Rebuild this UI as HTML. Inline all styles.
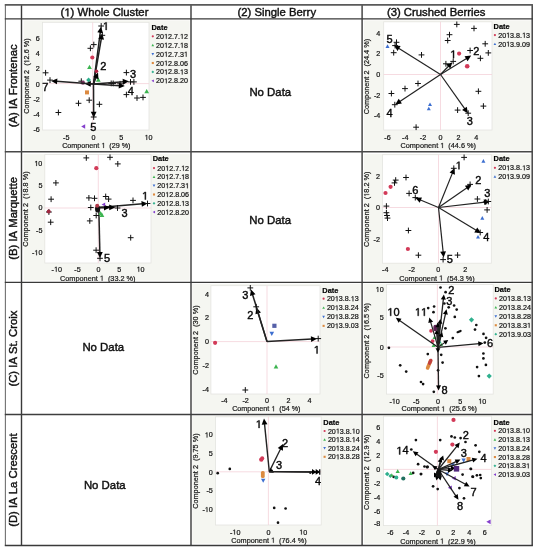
<!DOCTYPE html>
<html><head><meta charset="utf-8"><title>Figure</title>
<style>
html,body{margin:0;padding:0;background:#fff;width:537px;height:550px;overflow:hidden}
svg{display:block;will-change:transform}
text{font-family:"Liberation Sans", sans-serif;font-kerning:none;stroke:#111;stroke-width:0.2px}
text.b{stroke-width:0.42px}
</style></head><body>
<svg width="537" height="550" viewBox="0 0 537 550" font-family='"Liberation Sans", sans-serif'>
<rect width="537" height="550" fill="#fff"/>
<rect x="23.7" y="20.4" width="165.9" height="130.2" fill="#f5f6f1"/>
<rect x="42.5" y="22.3" width="106.5" height="107.7" fill="#fff" stroke="#e4e4e0" stroke-width="0.8"/>
<line x1="92.7" y1="22.3" x2="92.7" y2="130" stroke="#f4d2d9" stroke-width="0.8"/>
<line x1="42.5" y1="83.6" x2="149" y2="83.6" stroke="#f4d2d9" stroke-width="0.8"/>
<text x="35.8" y="40.69" font-size="7.2" font-weight="normal" fill="#111">6</text>
<text x="35.8" y="55.99" font-size="7.2" font-weight="normal" fill="#111">4</text>
<text x="35.8" y="71.29" font-size="7.2" font-weight="normal" fill="#111">2</text>
<text x="35.8" y="86.59" font-size="7.2" font-weight="normal" fill="#111">0</text>
<text x="33.4" y="101.89" font-size="7.2" font-weight="normal" fill="#111">-2</text>
<text x="33.4" y="117.19" font-size="7.2" font-weight="normal" fill="#111">-4</text>
<text x="33.4" y="132.49" font-size="7.2" font-weight="normal" fill="#111">-6</text>
<text x="63" y="139.89" font-size="7.2" font-weight="normal" fill="#111">-5</text>
<text x="91.6" y="139.89" font-size="7.2" font-weight="normal" fill="#111">0</text>
<text x="119.2" y="139.89" font-size="7.2" font-weight="normal" fill="#111">5</text>
<text x="144.6" y="139.89" font-size="7.2" font-weight="normal" fill="#111">&#8199;0</text><path transform="translate(144.6,139.89) scale(0.003516,-0.003516)" d="M545 0L545 1237L227 1010L227 1180L560 1409L726 1409L726 0Z" fill="#111" stroke="#111" stroke-width="56.89"/>
<text x="62.18" y="147.89" font-size="7.2" font-weight="normal" fill="#222">Component &#8199;&#160;&#160;(29 %)</text><path transform="translate(101.41,147.89) scale(0.003516,-0.003516)" d="M545 0L545 1237L227 1010L227 1180L560 1409L726 1409L726 0Z" fill="#222" stroke="#111" stroke-width="56.89"/>
<g transform="translate(29.3,76) rotate(-90)"><text x="-37.74" y="0" font-size="7.3" font-weight="normal" fill="#222">Component 2&#160;&#160;(&#8199;2.6 %)</text><path transform="translate(12.58,0) scale(0.003564,-0.003564)" d="M545 0L545 1237L227 1010L227 1180L560 1409L726 1409L726 0Z" fill="#222" stroke="#111" stroke-width="56.11"/></g>
<path d="M42.7 72.8H48.5M45.6 69.9V75.7" stroke="#111" stroke-width="1" fill="none"/>
<path d="M47.1 80.1H52.9M50 77.2V83" stroke="#111" stroke-width="1" fill="none"/>
<path d="M78.4 81.2H84.2M81.3 78.3V84.1" stroke="#111" stroke-width="1" fill="none"/>
<path d="M90.9 44.6H96.7M93.8 41.7V47.5" stroke="#111" stroke-width="1" fill="none"/>
<path d="M87.5 48.3H93.3M90.4 45.4V51.2" stroke="#111" stroke-width="1" fill="none"/>
<path d="M123.5 72.6H129.3M126.4 69.7V75.5" stroke="#111" stroke-width="1" fill="none"/>
<path d="M127.6 81.9H133.4M130.5 79V84.8" stroke="#111" stroke-width="1" fill="none"/>
<path d="M131 81.9H136.8M133.9 79V84.8" stroke="#111" stroke-width="1" fill="none"/>
<path d="M117.2 83.8H123M120.1 80.9V86.7" stroke="#111" stroke-width="1" fill="none"/>
<path d="M108.3 83.4H114.1M111.2 80.5V86.3" stroke="#111" stroke-width="1" fill="none"/>
<path d="M110.3 83.4H116.1M113.2 80.5V86.3" stroke="#111" stroke-width="1" fill="none"/>
<path d="M123.5 94.6H129.3M126.4 91.7V97.5" stroke="#111" stroke-width="1" fill="none"/>
<path d="M134.1 98H139.9M137 95.1V100.9" stroke="#111" stroke-width="1" fill="none"/>
<path d="M140.1 97.4H145.9M143 94.5V100.3" stroke="#111" stroke-width="1" fill="none"/>
<path d="M75.6 103.3H81.4M78.5 100.4V106.2" stroke="#111" stroke-width="1" fill="none"/>
<path d="M86.3 100.2H92.1M89.2 97.3V103.1" stroke="#111" stroke-width="1" fill="none"/>
<path d="M96.5 104.3H102.3M99.4 101.4V107.2" stroke="#111" stroke-width="1" fill="none"/>
<path d="M55.5 112.5H61.3M58.4 109.6V115.4" stroke="#111" stroke-width="1" fill="none"/>
<circle cx="92.3" cy="57.5" r="2.1" fill="#d23a58"/>
<polygon points="89.5,64.8 87.1,69.12 91.9,69.12" fill="#3cb450"/>
<polygon points="98.3,77.4 95.9,81.72 100.7,81.72" fill="#3cb450"/>
<polygon points="146.7,88.9 144.3,93.22 149.1,93.22" fill="#3cb450"/>
<polygon points="88.6,77.6 91,80 88.6,82.4 86.2,80" fill="#2fb08e"/>
<circle cx="83" cy="82.8" r="2" fill="#7a3060"/>
<rect x="85" y="90.4" width="4" height="4" fill="#dc8a40"/>
<polygon points="81.2,126.5 85.16,124.3 85.16,128.7" fill="#8540cc"/>
<line x1="93.5" y1="84" x2="100.35" y2="31.76" stroke="#222" stroke-width="1.5"/>
<polygon points="101,26.8 103.1,33.13 97.34,32.37" fill="#000"/>
<line x1="93.5" y1="84" x2="101.35" y2="38.33" stroke="#222" stroke-width="1.5"/>
<polygon points="102.2,33.4 104.04,39.8 98.33,38.82" fill="#000"/>
<line x1="93.5" y1="84" x2="96.18" y2="77.16" stroke="#222" stroke-width="1.5"/>
<polygon points="98,72.5 98.51,79.14 93.11,77.03" fill="#000"/>
<line x1="93.5" y1="84" x2="123.81" y2="81.68" stroke="#222" stroke-width="1.5"/>
<polygon points="128.8,81.3 123.04,84.65 122.6,78.87" fill="#000"/>
<line x1="93.5" y1="84" x2="119.81" y2="85.68" stroke="#222" stroke-width="1.5"/>
<polygon points="124.8,86 118.63,88.51 119,82.72" fill="#000"/>
<line x1="93.5" y1="84" x2="93.67" y2="112.7" stroke="#222" stroke-width="1.5"/>
<polygon points="93.7,117.7 90.76,111.72 96.56,111.68" fill="#000"/>
<line x1="93.5" y1="84" x2="89.8" y2="83.87" stroke="#222" stroke-width="1.5"/>
<polygon points="84.8,83.7 90.9,81.01 90.7,86.81" fill="#000"/>
<line x1="93.5" y1="84" x2="56.19" y2="81.35" stroke="#222" stroke-width="1.5"/>
<polygon points="51.2,81 57.39,78.53 56.98,84.32" fill="#000"/>
<circle cx="96.5" cy="71.3" r="1.8" fill="#b02040"/>
<path d="M98.3 26H104.1M101.2 23.1V28.9" stroke="#111" stroke-width="1" fill="none"/>
<path d="M99.4 35.3H105.2M102.3 32.4V38.2" stroke="#111" stroke-width="1" fill="none"/>
<path d="M90.8 117H96.6M93.7 114.1V119.9" stroke="#111" stroke-width="1" fill="none"/>
<text class="b" x="102.74" y="29.96" font-size="11" font-weight="normal" fill="#000">&#8199;</text><path transform="translate(102.74,29.96) scale(0.005371,-0.005371)" d="M545 0L545 1237L227 1010L227 1180L560 1409L726 1409L726 0Z" fill="#000" stroke="#111" stroke-width="78.2"/>
<text class="b" x="100.14" y="69.66" font-size="11" font-weight="normal" fill="#000">2</text>
<text class="b" x="129.94" y="77.96" font-size="11" font-weight="normal" fill="#000">3</text>
<text class="b" x="127.64" y="94.96" font-size="11" font-weight="normal" fill="#000">4</text>
<text class="b" x="90.24" y="130.86" font-size="11" font-weight="normal" fill="#000">5</text>
<text class="b" x="42.34" y="90.56" font-size="11" font-weight="normal" fill="#000">7</text>
<text x="151.5" y="30.26" font-size="7.4" font-weight="bold" fill="#000">Date</text>
<circle cx="152.8" cy="36.3" r="1.1" fill="#d23a58"/>
<text x="156.1" y="38.87" font-size="7.15" font-weight="normal" fill="#111">20&#8199;2.7.&#8199;2</text><path transform="translate(164.05,38.87) scale(0.003491,-0.003491)" d="M545 0L545 1237L227 1010L227 1180L560 1409L726 1409L726 0Z" fill="#111" stroke="#111" stroke-width="57.29"/><path transform="translate(179.96,38.87) scale(0.003491,-0.003491)" d="M545 0L545 1237L227 1010L227 1180L560 1409L726 1409L726 0Z" fill="#111" stroke="#111" stroke-width="57.29"/>
<polygon points="152.8,43.85 151.45,46.28 154.15,46.28" fill="#3cb450"/>
<text x="156.1" y="47.77" font-size="7.15" font-weight="normal" fill="#111">20&#8199;2.7.&#8199;8</text><path transform="translate(164.05,47.77) scale(0.003491,-0.003491)" d="M545 0L545 1237L227 1010L227 1180L560 1409L726 1409L726 0Z" fill="#111" stroke="#111" stroke-width="57.29"/><path transform="translate(179.96,47.77) scale(0.003491,-0.003491)" d="M545 0L545 1237L227 1010L227 1180L560 1409L726 1409L726 0Z" fill="#111" stroke="#111" stroke-width="57.29"/>
<polygon points="152.8,55.45 151.45,53.02 154.15,53.02" fill="#3d6fd0"/>
<text x="156.1" y="56.67" font-size="7.15" font-weight="normal" fill="#111">20&#8199;2.7.3&#8199;</text><path transform="translate(164.05,56.67) scale(0.003491,-0.003491)" d="M545 0L545 1237L227 1010L227 1180L560 1409L726 1409L726 0Z" fill="#111" stroke="#111" stroke-width="57.29"/><path transform="translate(183.93,56.67) scale(0.003491,-0.003491)" d="M545 0L545 1237L227 1010L227 1180L560 1409L726 1409L726 0Z" fill="#111" stroke="#111" stroke-width="57.29"/>
<rect x="151.75" y="61.95" width="2.1" height="2.1" fill="#dc8a40"/>
<text x="156.1" y="65.57" font-size="7.15" font-weight="normal" fill="#111">20&#8199;2.8.06</text><path transform="translate(164.05,65.57) scale(0.003491,-0.003491)" d="M545 0L545 1237L227 1010L227 1180L560 1409L726 1409L726 0Z" fill="#111" stroke="#111" stroke-width="57.29"/>
<polygon points="152.8,70.5 154.2,71.9 152.8,73.3 151.4,71.9" fill="#2fb08e"/>
<text x="156.1" y="74.47" font-size="7.15" font-weight="normal" fill="#111">20&#8199;2.8.&#8199;3</text><path transform="translate(164.05,74.47) scale(0.003491,-0.003491)" d="M545 0L545 1237L227 1010L227 1180L560 1409L726 1409L726 0Z" fill="#111" stroke="#111" stroke-width="57.29"/><path transform="translate(179.96,74.47) scale(0.003491,-0.003491)" d="M545 0L545 1237L227 1010L227 1180L560 1409L726 1409L726 0Z" fill="#111" stroke="#111" stroke-width="57.29"/>
<polygon points="151.45,80.8 153.88,79.45 153.88,82.15" fill="#8540cc"/>
<text x="156.1" y="83.37" font-size="7.15" font-weight="normal" fill="#111">20&#8199;2.8.20</text><path transform="translate(164.05,83.37) scale(0.003491,-0.003491)" d="M545 0L545 1237L227 1010L227 1180L560 1409L726 1409L726 0Z" fill="#111" stroke="#111" stroke-width="57.29"/>
<rect x="23.7" y="154" width="165.9" height="126.6" fill="#f5f6f1"/>
<rect x="44.8" y="154.6" width="106.2" height="108.4" fill="#fff" stroke="#e4e4e0" stroke-width="0.8"/>
<line x1="98.3" y1="154.6" x2="98.3" y2="263" stroke="#f4d2d9" stroke-width="0.8"/>
<line x1="44.8" y1="208" x2="151" y2="208" stroke="#f4d2d9" stroke-width="0.8"/>
<text x="34.39" y="165.99" font-size="7.2" font-weight="normal" fill="#111">&#8199;0</text><path transform="translate(34.39,165.99) scale(0.003516,-0.003516)" d="M545 0L545 1237L227 1010L227 1180L560 1409L726 1409L726 0Z" fill="#111" stroke="#111" stroke-width="56.89"/>
<text x="38.4" y="188.29" font-size="7.2" font-weight="normal" fill="#111">5</text>
<text x="38.4" y="210.39" font-size="7.2" font-weight="normal" fill="#111">0</text>
<text x="36" y="232.59" font-size="7.2" font-weight="normal" fill="#111">-5</text>
<text x="31.99" y="255.19" font-size="7.2" font-weight="normal" fill="#111">-&#8199;0</text><path transform="translate(34.39,255.19) scale(0.003516,-0.003516)" d="M545 0L545 1237L227 1010L227 1180L560 1409L726 1409L726 0Z" fill="#111" stroke="#111" stroke-width="56.89"/>
<text x="51.6" y="271.79" font-size="7.2" font-weight="normal" fill="#111">-&#8199;0</text><path transform="translate(53.99,271.79) scale(0.003516,-0.003516)" d="M545 0L545 1237L227 1010L227 1180L560 1409L726 1409L726 0Z" fill="#111" stroke="#111" stroke-width="56.89"/>
<text x="74.3" y="271.79" font-size="7.2" font-weight="normal" fill="#111">-5</text>
<text x="96.5" y="271.79" font-size="7.2" font-weight="normal" fill="#111">0</text>
<text x="117.3" y="271.79" font-size="7.2" font-weight="normal" fill="#111">5</text>
<text x="136.6" y="271.79" font-size="7.2" font-weight="normal" fill="#111">&#8199;0</text><path transform="translate(136.6,271.79) scale(0.003516,-0.003516)" d="M545 0L545 1237L227 1010L227 1180L560 1409L726 1409L726 0Z" fill="#111" stroke="#111" stroke-width="56.89"/>
<text x="60.06" y="280.73" font-size="7.3" font-weight="normal" fill="#222">Component &#8199;&#160;&#160;(33.2 %)</text><path transform="translate(99.83,280.73) scale(0.003564,-0.003564)" d="M545 0L545 1237L227 1010L227 1180L560 1409L726 1409L726 0Z" fill="#222" stroke="#111" stroke-width="56.11"/>
<g transform="translate(28.4,209.1) rotate(-90)"><text x="-37.74" y="0" font-size="7.3" font-weight="normal" fill="#222">Component 2&#160;&#160;(&#8199;8.8 %)</text><path transform="translate(12.58,0) scale(0.003564,-0.003564)" d="M545 0L545 1237L227 1010L227 1180L560 1409L726 1409L726 0Z" fill="#222" stroke="#111" stroke-width="56.11"/></g>
<path d="M83.4 157.9H89.2M86.3 155V160.8" stroke="#111" stroke-width="1" fill="none"/>
<path d="M107.1 157.3H112.9M110 154.4V160.2" stroke="#111" stroke-width="1" fill="none"/>
<path d="M114.9 163.9H120.7M117.8 161V166.8" stroke="#111" stroke-width="1" fill="none"/>
<path d="M53 182.9H58.8M55.9 180V185.8" stroke="#111" stroke-width="1" fill="none"/>
<path d="M48.2 199.2H54M51.1 196.3V202.1" stroke="#111" stroke-width="1" fill="none"/>
<path d="M86 197.9H91.8M88.9 195V200.8" stroke="#111" stroke-width="1" fill="none"/>
<path d="M91.6 198.3H97.4M94.5 195.4V201.2" stroke="#111" stroke-width="1" fill="none"/>
<path d="M102.8 196.5H108.6M105.7 193.6V199.4" stroke="#111" stroke-width="1" fill="none"/>
<path d="M105.7 199.1H111.5M108.6 196.2V202" stroke="#111" stroke-width="1" fill="none"/>
<path d="M130.1 200.4H135.9M133 197.5V203.3" stroke="#111" stroke-width="1" fill="none"/>
<path d="M87.9 207.5H93.7M90.8 204.6V210.4" stroke="#111" stroke-width="1" fill="none"/>
<path d="M46 212H51.8M48.9 209.1V214.9" stroke="#111" stroke-width="1" fill="none"/>
<path d="M47.8 222.2H53.6M50.7 219.3V225.1" stroke="#111" stroke-width="1" fill="none"/>
<path d="M86.9 220.9H92.7M89.8 218V223.8" stroke="#111" stroke-width="1" fill="none"/>
<path d="M127.8 237.7H133.6M130.7 234.8V240.6" stroke="#111" stroke-width="1" fill="none"/>
<path d="M93.2 250.2H99M96.1 247.3V253.1" stroke="#111" stroke-width="1" fill="none"/>
<circle cx="96.3" cy="168.2" r="2.1" fill="#d23a58"/>
<circle cx="48.7" cy="211.5" r="2" fill="#a02840"/>
<line x1="98.8" y1="207.6" x2="142.62" y2="203.83" stroke="#222" stroke-width="1.5"/>
<polygon points="147.6,203.4 141.87,206.8 141.37,201.03" fill="#000"/>
<line x1="98.8" y1="207.6" x2="110.2" y2="207.46" stroke="#222" stroke-width="1.5"/>
<polygon points="115.2,207.4 109.24,210.37 109.17,204.57" fill="#000"/>
<line x1="98.8" y1="207.6" x2="105" y2="207.6" stroke="#222" stroke-width="1.5"/>
<polygon points="110,207.6 104,210.5 104,204.7" fill="#000"/>
<line x1="98.8" y1="207.6" x2="99.88" y2="253" stroke="#222" stroke-width="1.5"/>
<polygon points="100,258 96.96,252.07 102.76,251.93" fill="#000"/>
<ellipse cx="97.6" cy="209.0" rx="2.6" ry="3.6" fill="#111"/>
<circle cx="97.2" cy="205.8" r="2" fill="#b03848"/>
<path d="M114.6 208H120.4M117.5 205.1V210.9" stroke="#111" stroke-width="1" fill="none"/>
<path d="M93.3 215.5H99.1M96.2 212.6V218.4" stroke="#111" stroke-width="1" fill="none"/>
<polygon points="101.6,204.6 105.2,202.6 105.2,206.6" fill="#8540cc"/>
<polygon points="101.9,212.6 99.5,216.92 104.3,216.92" fill="#3cb450"/>
<polygon points="100.6,211 98.4,214.96 102.8,214.96" fill="#3cb450"/>
<path d="M144.6 203.5H150.4M147.5 200.6V206.4" stroke="#111" stroke-width="1" fill="none"/>
<path d="M97.1 258.3H102.9M100 255.4V261.2" stroke="#111" stroke-width="1" fill="none"/>
<text class="b" x="141.94" y="199.56" font-size="11" font-weight="normal" fill="#000">&#8199;</text><path transform="translate(141.94,199.56) scale(0.005371,-0.005371)" d="M545 0L545 1237L227 1010L227 1180L560 1409L726 1409L726 0Z" fill="#000" stroke="#111" stroke-width="78.2"/>
<text class="b" x="121.44" y="217.46" font-size="11" font-weight="normal" fill="#000">3</text>
<text class="b" x="104.04" y="262.46" font-size="11" font-weight="normal" fill="#000">5</text>
<text x="152.7" y="161.36" font-size="7.4" font-weight="bold" fill="#000">Date</text>
<circle cx="154" cy="168.1" r="1.1" fill="#d23a58"/>
<text x="157.3" y="170.67" font-size="7.15" font-weight="normal" fill="#111">20&#8199;2.7.&#8199;2</text><path transform="translate(165.25,170.67) scale(0.003491,-0.003491)" d="M545 0L545 1237L227 1010L227 1180L560 1409L726 1409L726 0Z" fill="#111" stroke="#111" stroke-width="57.29"/><path transform="translate(181.16,170.67) scale(0.003491,-0.003491)" d="M545 0L545 1237L227 1010L227 1180L560 1409L726 1409L726 0Z" fill="#111" stroke="#111" stroke-width="57.29"/>
<polygon points="154,175.55 152.65,177.98 155.35,177.98" fill="#3cb450"/>
<text x="157.3" y="179.47" font-size="7.15" font-weight="normal" fill="#111">20&#8199;2.7.&#8199;8</text><path transform="translate(165.25,179.47) scale(0.003491,-0.003491)" d="M545 0L545 1237L227 1010L227 1180L560 1409L726 1409L726 0Z" fill="#111" stroke="#111" stroke-width="57.29"/><path transform="translate(181.16,179.47) scale(0.003491,-0.003491)" d="M545 0L545 1237L227 1010L227 1180L560 1409L726 1409L726 0Z" fill="#111" stroke="#111" stroke-width="57.29"/>
<polygon points="154,187.05 152.65,184.62 155.35,184.62" fill="#3d6fd0"/>
<text x="157.3" y="188.27" font-size="7.15" font-weight="normal" fill="#111">20&#8199;2.7.3&#8199;</text><path transform="translate(165.25,188.27) scale(0.003491,-0.003491)" d="M545 0L545 1237L227 1010L227 1180L560 1409L726 1409L726 0Z" fill="#111" stroke="#111" stroke-width="57.29"/><path transform="translate(185.13,188.27) scale(0.003491,-0.003491)" d="M545 0L545 1237L227 1010L227 1180L560 1409L726 1409L726 0Z" fill="#111" stroke="#111" stroke-width="57.29"/>
<rect x="152.95" y="193.45" width="2.1" height="2.1" fill="#dc8a40"/>
<text x="157.3" y="197.07" font-size="7.15" font-weight="normal" fill="#111">20&#8199;2.8.06</text><path transform="translate(165.25,197.07) scale(0.003491,-0.003491)" d="M545 0L545 1237L227 1010L227 1180L560 1409L726 1409L726 0Z" fill="#111" stroke="#111" stroke-width="57.29"/>
<polygon points="154,201.9 155.4,203.3 154,204.7 152.6,203.3" fill="#2fb08e"/>
<text x="157.3" y="205.87" font-size="7.15" font-weight="normal" fill="#111">20&#8199;2.8.&#8199;3</text><path transform="translate(165.25,205.87) scale(0.003491,-0.003491)" d="M545 0L545 1237L227 1010L227 1180L560 1409L726 1409L726 0Z" fill="#111" stroke="#111" stroke-width="57.29"/><path transform="translate(181.16,205.87) scale(0.003491,-0.003491)" d="M545 0L545 1237L227 1010L227 1180L560 1409L726 1409L726 0Z" fill="#111" stroke="#111" stroke-width="57.29"/>
<polygon points="152.65,212.1 155.08,210.75 155.08,213.45" fill="#8540cc"/>
<text x="157.3" y="214.67" font-size="7.15" font-weight="normal" fill="#111">20&#8199;2.8.20</text><path transform="translate(165.25,214.67) scale(0.003491,-0.003491)" d="M545 0L545 1237L227 1010L227 1180L560 1409L726 1409L726 0Z" fill="#111" stroke="#111" stroke-width="57.29"/>
<rect x="192.3" y="283.8" width="168.5" height="128.8" fill="#f5f6f1"/>
<rect x="210.9" y="285.7" width="109.1" height="108.3" fill="#fff" stroke="#e4e4e0" stroke-width="0.8"/>
<line x1="267" y1="285.7" x2="267" y2="394" stroke="#f4d2d9" stroke-width="0.8"/>
<line x1="210.9" y1="341.6" x2="320" y2="341.6" stroke="#f4d2d9" stroke-width="0.8"/>
<text x="205" y="296.59" font-size="7.2" font-weight="normal" fill="#111">4</text>
<text x="205" y="320.19" font-size="7.2" font-weight="normal" fill="#111">2</text>
<text x="205" y="344.19" font-size="7.2" font-weight="normal" fill="#111">0</text>
<text x="202.6" y="368.39" font-size="7.2" font-weight="normal" fill="#111">-2</text>
<text x="202.6" y="392.09" font-size="7.2" font-weight="normal" fill="#111">-4</text>
<text x="221.2" y="403.49" font-size="7.2" font-weight="normal" fill="#111">-4</text>
<text x="242.4" y="403.49" font-size="7.2" font-weight="normal" fill="#111">-2</text>
<text x="265" y="403.49" font-size="7.2" font-weight="normal" fill="#111">0</text>
<text x="286.4" y="403.49" font-size="7.2" font-weight="normal" fill="#111">2</text>
<text x="307.6" y="403.49" font-size="7.2" font-weight="normal" fill="#111">4</text>
<text x="232.18" y="411.19" font-size="7.2" font-weight="normal" fill="#222">Component &#8199;&#160;&#160;(54 %)</text><path transform="translate(271.41,411.19) scale(0.003516,-0.003516)" d="M545 0L545 1237L227 1010L227 1180L560 1409L726 1409L726 0Z" fill="#222" stroke="#111" stroke-width="56.89"/>
<g transform="translate(197.6,340.1) rotate(-90)"><text x="-34.69" y="0" font-size="7.3" font-weight="normal" fill="#222">Component 2&#160;&#160;(30 %)</text></g>
<circle cx="215.1" cy="342.8" r="2.1" fill="#d23a58"/>
<rect x="272.3" y="323.7" width="4.2" height="4.2" fill="#5560a8"/>
<polygon points="271.8,335.9 269.5,331.76 274.1,331.76" fill="#3d6fd0"/>
<polygon points="276,364.3 273.7,368.44 278.3,368.44" fill="#3cb450"/>
<path d="M242.4 390H248.2M245.3 387.1V392.9" stroke="#111" stroke-width="1" fill="none"/>
<line x1="267" y1="341.6" x2="312.01" y2="339.08" stroke="#222" stroke-width="1.5"/>
<polygon points="317,338.8 311.17,342.03 310.85,336.24" fill="#000"/>
<line x1="267" y1="341.6" x2="257.89" y2="312.37" stroke="#222" stroke-width="1.5"/>
<polygon points="256.4,307.6 260.95,312.46 255.42,314.19" fill="#000"/>
<line x1="267" y1="341.6" x2="252.47" y2="294.18" stroke="#222" stroke-width="1.5"/>
<polygon points="251,289.4 255.53,294.29 249.99,295.99" fill="#000"/>
<path d="M247.4 287.9H253.2M250.3 285V290.8" stroke="#111" stroke-width="1" fill="none"/>
<path d="M253.3 306.8H259.1M256.2 303.9V309.7" stroke="#111" stroke-width="1" fill="none"/>
<path d="M315.3 338.6H321.1M318.2 335.7V341.5" stroke="#111" stroke-width="1" fill="none"/>
<text class="b" x="313.64" y="353.56" font-size="11" font-weight="normal" fill="#000">&#8199;</text><path transform="translate(313.64,353.56) scale(0.005371,-0.005371)" d="M545 0L545 1237L227 1010L227 1180L560 1409L726 1409L726 0Z" fill="#000" stroke="#111" stroke-width="78.2"/>
<text class="b" x="247.24" y="318.56" font-size="11" font-weight="normal" fill="#000">2</text>
<text class="b" x="242.24" y="298.56" font-size="11" font-weight="normal" fill="#000">3</text>
<text x="322.3" y="292.66" font-size="7.4" font-weight="bold" fill="#000">Date</text>
<circle cx="323.6" cy="298.7" r="1.1" fill="#d23a58"/>
<text x="326.9" y="301.27" font-size="7.15" font-weight="normal" fill="#111">20&#8199;3.8.&#8199;3</text><path transform="translate(334.85,301.27) scale(0.003491,-0.003491)" d="M545 0L545 1237L227 1010L227 1180L560 1409L726 1409L726 0Z" fill="#111" stroke="#111" stroke-width="57.29"/><path transform="translate(350.76,301.27) scale(0.003491,-0.003491)" d="M545 0L545 1237L227 1010L227 1180L560 1409L726 1409L726 0Z" fill="#111" stroke="#111" stroke-width="57.29"/>
<polygon points="323.6,306.4 322.25,308.83 324.95,308.83" fill="#3cb450"/>
<text x="326.9" y="310.32" font-size="7.15" font-weight="normal" fill="#111">20&#8199;3.8.24</text><path transform="translate(334.85,310.32) scale(0.003491,-0.003491)" d="M545 0L545 1237L227 1010L227 1180L560 1409L726 1409L726 0Z" fill="#111" stroke="#111" stroke-width="57.29"/>
<polygon points="323.6,318.15 322.25,315.72 324.95,315.72" fill="#3d6fd0"/>
<text x="326.9" y="319.37" font-size="7.15" font-weight="normal" fill="#111">20&#8199;3.8.28</text><path transform="translate(334.85,319.37) scale(0.003491,-0.003491)" d="M545 0L545 1237L227 1010L227 1180L560 1409L726 1409L726 0Z" fill="#111" stroke="#111" stroke-width="57.29"/>
<rect x="322.55" y="324.8" width="2.1" height="2.1" fill="#dc8a40"/>
<text x="326.9" y="328.42" font-size="7.15" font-weight="normal" fill="#111">20&#8199;3.9.03</text><path transform="translate(334.85,328.42) scale(0.003491,-0.003491)" d="M545 0L545 1237L227 1010L227 1180L560 1409L726 1409L726 0Z" fill="#111" stroke="#111" stroke-width="57.29"/>
<rect x="192.3" y="415.8" width="168.5" height="127.8" fill="#f5f6f1"/>
<rect x="215.4" y="416.8" width="105.8" height="108.2" fill="#fff" stroke="#e4e4e0" stroke-width="0.8"/>
<line x1="268.4" y1="416.8" x2="268.4" y2="525" stroke="#f4d2d9" stroke-width="0.8"/>
<line x1="215.4" y1="471.8" x2="321.2" y2="471.8" stroke="#f4d2d9" stroke-width="0.8"/>
<text x="204.79" y="437.49" font-size="7.2" font-weight="normal" fill="#111">&#8199;0</text><path transform="translate(204.79,437.49) scale(0.003516,-0.003516)" d="M545 0L545 1237L227 1010L227 1180L560 1409L726 1409L726 0Z" fill="#111" stroke="#111" stroke-width="56.89"/>
<text x="208.8" y="455.69" font-size="7.2" font-weight="normal" fill="#111">5</text>
<text x="208.8" y="474.59" font-size="7.2" font-weight="normal" fill="#111">0</text>
<text x="206.4" y="493.49" font-size="7.2" font-weight="normal" fill="#111">-5</text>
<text x="202.39" y="512.09" font-size="7.2" font-weight="normal" fill="#111">-&#8199;0</text><path transform="translate(204.79,512.09) scale(0.003516,-0.003516)" d="M545 0L545 1237L227 1010L227 1180L560 1409L726 1409L726 0Z" fill="#111" stroke="#111" stroke-width="56.89"/>
<text x="230" y="534.59" font-size="7.2" font-weight="normal" fill="#111">-&#8199;0</text><path transform="translate(232.39,534.59) scale(0.003516,-0.003516)" d="M545 0L545 1237L227 1010L227 1180L560 1409L726 1409L726 0Z" fill="#111" stroke="#111" stroke-width="56.89"/>
<text x="266.6" y="534.59" font-size="7.2" font-weight="normal" fill="#111">0</text>
<text x="299.2" y="534.59" font-size="7.2" font-weight="normal" fill="#111">&#8199;0</text><path transform="translate(299.2,534.59) scale(0.003516,-0.003516)" d="M545 0L545 1237L227 1010L227 1180L560 1409L726 1409L726 0Z" fill="#111" stroke="#111" stroke-width="56.89"/>
<text x="231.26" y="542.73" font-size="7.3" font-weight="normal" fill="#222">Component &#8199;&#160;&#160;(76.4 %)</text><path transform="translate(271.03,542.73) scale(0.003564,-0.003564)" d="M545 0L545 1237L227 1010L227 1180L560 1409L726 1409L726 0Z" fill="#222" stroke="#111" stroke-width="56.11"/>
<g transform="translate(197.6,471.1) rotate(-90)"><text x="-37.74" y="0" font-size="7.3" font-weight="normal" fill="#222">Component 2&#160;&#160;(9.75 %)</text></g>
<circle cx="217.7" cy="473.2" r="1.35" fill="#111"/>
<circle cx="229.8" cy="468.9" r="1.35" fill="#111"/>
<circle cx="274.2" cy="507.9" r="1.35" fill="#111"/>
<circle cx="285.6" cy="508.5" r="1.35" fill="#111"/>
<circle cx="278" cy="522.7" r="1.35" fill="#111"/>
<circle cx="310.3" cy="472.6" r="1.35" fill="#111"/>
<circle cx="261.3" cy="459.6" r="2.2" fill="#d23a58"/>
<circle cx="262.2" cy="458.2" r="2" fill="#d23a58"/>
<rect x="260.9" y="471.0" width="3.8" height="7" rx="1.6" fill="#dc8a40"/>
<polygon points="263.2,482.8 261,478.84 265.4,478.84" fill="#3d6fd0"/>
<line x1="269.3" y1="471.6" x2="264.5" y2="423.58" stroke="#222" stroke-width="1.4"/>
<polygon points="264,418.6 267.48,424.28 261.71,424.86" fill="#000"/>
<line x1="269.3" y1="471.6" x2="280.78" y2="448.48" stroke="#222" stroke-width="1.3"/>
<polygon points="283,444 282.93,450.66 277.73,448.08" fill="#000"/>
<line x1="272.8" y1="470.1" x2="271.51" y2="470.95" stroke="#222" stroke-width="1.5"/>
<polygon points="269,472.6 270.75,467.98 273.94,472.82" fill="#000"/>
<line x1="269.3" y1="471.6" x2="316.7" y2="471.97" stroke="#222" stroke-width="1.4"/>
<polygon points="320.2,472 315.68,474.86 315.72,469.06" fill="#000"/>
<line x1="269.3" y1="471.6" x2="313" y2="471.97" stroke="#222" stroke-width="1.4"/>
<polygon points="316.5,472 311.98,474.86 312.02,469.06" fill="#000"/>
<rect x="319.0" y="469.3" width="1.4" height="5.4" fill="#111"/>
<text class="b" x="255.64" y="427.96" font-size="11" font-weight="normal" fill="#000">&#8199;</text><path transform="translate(255.64,427.96) scale(0.005371,-0.005371)" d="M545 0L545 1237L227 1010L227 1180L560 1409L726 1409L726 0Z" fill="#000" stroke="#111" stroke-width="78.2"/>
<text class="b" x="281.94" y="446.86" font-size="11" font-weight="normal" fill="#000">2</text>
<text class="b" x="276.04" y="469.16" font-size="11" font-weight="normal" fill="#000">3</text>
<text class="b" x="314.94" y="485.26" font-size="11" font-weight="normal" fill="#000">4</text>
<text x="323.3" y="424.66" font-size="7.4" font-weight="bold" fill="#000">Date</text>
<circle cx="324.6" cy="431" r="1.1" fill="#d23a58"/>
<text x="327.9" y="433.57" font-size="7.15" font-weight="normal" fill="#111">20&#8199;3.8.&#8199;0</text><path transform="translate(335.85,433.57) scale(0.003491,-0.003491)" d="M545 0L545 1237L227 1010L227 1180L560 1409L726 1409L726 0Z" fill="#111" stroke="#111" stroke-width="57.29"/><path transform="translate(351.76,433.57) scale(0.003491,-0.003491)" d="M545 0L545 1237L227 1010L227 1180L560 1409L726 1409L726 0Z" fill="#111" stroke="#111" stroke-width="57.29"/>
<polygon points="324.6,438.25 323.25,440.68 325.95,440.68" fill="#3cb450"/>
<text x="327.9" y="442.17" font-size="7.15" font-weight="normal" fill="#111">20&#8199;3.8.&#8199;4</text><path transform="translate(335.85,442.17) scale(0.003491,-0.003491)" d="M545 0L545 1237L227 1010L227 1180L560 1409L726 1409L726 0Z" fill="#111" stroke="#111" stroke-width="57.29"/><path transform="translate(351.76,442.17) scale(0.003491,-0.003491)" d="M545 0L545 1237L227 1010L227 1180L560 1409L726 1409L726 0Z" fill="#111" stroke="#111" stroke-width="57.29"/>
<polygon points="324.6,449.55 323.25,447.12 325.95,447.12" fill="#3d6fd0"/>
<text x="327.9" y="450.77" font-size="7.15" font-weight="normal" fill="#111">20&#8199;3.8.24</text><path transform="translate(335.85,450.77) scale(0.003491,-0.003491)" d="M545 0L545 1237L227 1010L227 1180L560 1409L726 1409L726 0Z" fill="#111" stroke="#111" stroke-width="57.29"/>
<rect x="323.55" y="455.75" width="2.1" height="2.1" fill="#dc8a40"/>
<text x="327.9" y="459.37" font-size="7.15" font-weight="normal" fill="#111">20&#8199;3.8.28</text><path transform="translate(335.85,459.37) scale(0.003491,-0.003491)" d="M545 0L545 1237L227 1010L227 1180L560 1409L726 1409L726 0Z" fill="#111" stroke="#111" stroke-width="57.29"/>
<rect x="364" y="20.4" width="167" height="130.2" fill="#f5f6f1"/>
<rect x="383.7" y="21.8" width="108.3" height="108.2" fill="#fff" stroke="#e4e4e0" stroke-width="0.8"/>
<line x1="440.5" y1="21.8" x2="440.5" y2="130" stroke="#f4d2d9" stroke-width="0.8"/>
<line x1="383.7" y1="74.5" x2="492" y2="74.5" stroke="#f4d2d9" stroke-width="0.8"/>
<text x="376.3" y="36.19" font-size="7.2" font-weight="normal" fill="#111">4</text>
<text x="376.3" y="56.49" font-size="7.2" font-weight="normal" fill="#111">2</text>
<text x="376.3" y="76.99" font-size="7.2" font-weight="normal" fill="#111">0</text>
<text x="373.9" y="97.59" font-size="7.2" font-weight="normal" fill="#111">-2</text>
<text x="373.9" y="118.09" font-size="7.2" font-weight="normal" fill="#111">-4</text>
<text x="384.3" y="139.99" font-size="7.2" font-weight="normal" fill="#111">-6</text>
<text x="402.1" y="139.99" font-size="7.2" font-weight="normal" fill="#111">-4</text>
<text x="419.8" y="139.99" font-size="7.2" font-weight="normal" fill="#111">-2</text>
<text x="438.5" y="139.99" font-size="7.2" font-weight="normal" fill="#111">0</text>
<text x="456.5" y="139.99" font-size="7.2" font-weight="normal" fill="#111">2</text>
<text x="474.3" y="139.99" font-size="7.2" font-weight="normal" fill="#111">4</text>
<text x="400.46" y="148.03" font-size="7.3" font-weight="normal" fill="#222">Component &#8199;&#160;&#160;(44.6 %)</text><path transform="translate(440.23,148.03) scale(0.003564,-0.003564)" d="M545 0L545 1237L227 1010L227 1180L560 1409L726 1409L726 0Z" fill="#222" stroke="#111" stroke-width="56.11"/>
<g transform="translate(369.2,76.6) rotate(-90)"><text x="-37.74" y="0" font-size="7.3" font-weight="normal" fill="#222">Component 2&#160;&#160;(24.4 %)</text></g>
<path d="M453.9 24.4H459.7M456.8 21.5V27.3" stroke="#111" stroke-width="1" fill="none"/>
<path d="M471.1 28.4H476.9M474 25.5V31.3" stroke="#111" stroke-width="1" fill="none"/>
<path d="M446.6 34.7H452.4M449.5 31.8V37.6" stroke="#111" stroke-width="1" fill="none"/>
<path d="M444.8 40.5H450.6M447.7 37.6V43.4" stroke="#111" stroke-width="1" fill="none"/>
<path d="M482.3 43.8H488.1M485.2 40.9V46.7" stroke="#111" stroke-width="1" fill="none"/>
<path d="M485.4 52.9H491.2M488.3 50V55.8" stroke="#111" stroke-width="1" fill="none"/>
<path d="M467.2 50.5H473M470.1 47.6V53.4" stroke="#111" stroke-width="1" fill="none"/>
<path d="M477.5 58.3H483.3M480.4 55.4V61.2" stroke="#111" stroke-width="1" fill="none"/>
<path d="M443 63.8H448.8M445.9 60.9V66.7" stroke="#111" stroke-width="1" fill="none"/>
<path d="M450.3 61.4H456.1M453.2 58.5V64.3" stroke="#111" stroke-width="1" fill="none"/>
<path d="M390.8 52.7H396.6M393.7 49.8V55.6" stroke="#111" stroke-width="1" fill="none"/>
<path d="M418.6 54.9H424.4M421.5 52V57.8" stroke="#111" stroke-width="1" fill="none"/>
<path d="M415.1 83.5H420.9M418 80.6V86.4" stroke="#111" stroke-width="1" fill="none"/>
<path d="M402.1 88.6H407.9M405 85.7V91.5" stroke="#111" stroke-width="1" fill="none"/>
<path d="M388.5 93.5H394.3M391.4 90.6V96.4" stroke="#111" stroke-width="1" fill="none"/>
<path d="M391.9 104.7H397.7M394.8 101.8V107.6" stroke="#111" stroke-width="1" fill="none"/>
<path d="M413.2 127.2H419M416.1 124.3V130.1" stroke="#111" stroke-width="1" fill="none"/>
<path d="M475.5 91.3H481.3M478.4 88.4V94.2" stroke="#111" stroke-width="1" fill="none"/>
<path d="M480.5 106.1H486.3M483.4 103.2V109" stroke="#111" stroke-width="1" fill="none"/>
<path d="M454.7 110.1H460.5M457.6 107.2V113" stroke="#111" stroke-width="1" fill="none"/>
<path d="M465.3 113.2H471.1M468.2 110.3V116.1" stroke="#111" stroke-width="1" fill="none"/>
<circle cx="459.1" cy="53.6" r="2.1" fill="#d23a58"/>
<circle cx="467.2" cy="66.2" r="2.3" fill="#d23a58"/>
<polygon points="387.5,44.3 385.5,47.9 389.5,47.9" fill="#3d6fd0"/>
<polygon points="430,102.5 428,106.1 432,106.1" fill="#3d6fd0"/>
<polygon points="428.8,106.7 426.8,110.3 430.8,110.3" fill="#3d6fd0"/>
<line x1="440.5" y1="74.5" x2="448.92" y2="65.79" stroke="#222" stroke-width="1.2"/>
<polygon points="452.4,62.2 450.31,68.53 446.14,64.5" fill="#000"/>
<line x1="440.5" y1="74.5" x2="466.94" y2="58.22" stroke="#222" stroke-width="1.2"/>
<polygon points="471.2,55.6 467.61,61.22 464.57,56.28" fill="#000"/>
<line x1="440.5" y1="74.5" x2="465.01" y2="109.12" stroke="#222" stroke-width="1.2"/>
<polygon points="467.9,113.2 462.07,109.98 466.8,106.63" fill="#000"/>
<line x1="440.5" y1="74.5" x2="399.47" y2="101.74" stroke="#222" stroke-width="1.2"/>
<polygon points="395.3,104.5 398.7,98.77 401.9,103.6" fill="#000"/>
<line x1="440.5" y1="74.5" x2="398.23" y2="47.96" stroke="#222" stroke-width="1.2"/>
<polygon points="394,45.3 400.62,46.03 397.54,50.95" fill="#000"/>
<path d="M392.2 45.6H398M395.1 42.7V48.5" stroke="#111" stroke-width="1" fill="none"/>
<path d="M393.6 42.3H399.4M396.5 39.4V45.2" stroke="#111" stroke-width="1" fill="none"/>
<text class="b" x="450.14" y="58.16" font-size="11" font-weight="normal" fill="#000">&#8199;</text><path transform="translate(450.14,58.16) scale(0.005371,-0.005371)" d="M545 0L545 1237L227 1010L227 1180L560 1409L726 1409L726 0Z" fill="#000" stroke="#111" stroke-width="78.2"/>
<text class="b" x="473.14" y="54.56" font-size="11" font-weight="normal" fill="#000">2</text>
<text class="b" x="466.64" y="124.86" font-size="11" font-weight="normal" fill="#000">3</text>
<text class="b" x="386.44" y="116.96" font-size="11" font-weight="normal" fill="#000">4</text>
<text class="b" x="386.44" y="43.06" font-size="11" font-weight="normal" fill="#000">5</text>
<text x="493.6" y="28.66" font-size="7.4" font-weight="bold" fill="#000">Date</text>
<circle cx="494.9" cy="35.1" r="1.1" fill="#d23a58"/>
<text x="498.2" y="37.67" font-size="7.15" font-weight="normal" fill="#111">20&#8199;3.8.&#8199;3</text><path transform="translate(506.15,37.67) scale(0.003491,-0.003491)" d="M545 0L545 1237L227 1010L227 1180L560 1409L726 1409L726 0Z" fill="#111" stroke="#111" stroke-width="57.29"/><path transform="translate(522.06,37.67) scale(0.003491,-0.003491)" d="M545 0L545 1237L227 1010L227 1180L560 1409L726 1409L726 0Z" fill="#111" stroke="#111" stroke-width="57.29"/>
<polygon points="494.9,42.65 493.55,45.08 496.25,45.08" fill="#3d6fd0"/>
<text x="498.2" y="46.57" font-size="7.15" font-weight="normal" fill="#111">20&#8199;3.9.09</text><path transform="translate(506.15,46.57) scale(0.003491,-0.003491)" d="M545 0L545 1237L227 1010L227 1180L560 1409L726 1409L726 0Z" fill="#111" stroke="#111" stroke-width="57.29"/>
<rect x="364" y="154" width="167" height="126.6" fill="#f5f6f1"/>
<rect x="382.4" y="154.7" width="108.9" height="108.5" fill="#fff" stroke="#e4e4e0" stroke-width="0.8"/>
<line x1="438.5" y1="154.7" x2="438.5" y2="263.2" stroke="#f4d2d9" stroke-width="0.8"/>
<line x1="382.4" y1="207.5" x2="491.3" y2="207.5" stroke="#f4d2d9" stroke-width="0.8"/>
<text x="376" y="179.19" font-size="7.2" font-weight="normal" fill="#111">2</text>
<text x="376" y="209.89" font-size="7.2" font-weight="normal" fill="#111">0</text>
<text x="373.6" y="242.09" font-size="7.2" font-weight="normal" fill="#111">-2</text>
<text x="382" y="272.39" font-size="7.2" font-weight="normal" fill="#111">-4</text>
<text x="408.6" y="272.39" font-size="7.2" font-weight="normal" fill="#111">-2</text>
<text x="436.2" y="272.39" font-size="7.2" font-weight="normal" fill="#111">0</text>
<text x="463.2" y="272.39" font-size="7.2" font-weight="normal" fill="#111">2</text>
<text x="399.26" y="280.53" font-size="7.3" font-weight="normal" fill="#222">Component &#8199;&#160;&#160;(54.3 %)</text><path transform="translate(439.03,280.53) scale(0.003564,-0.003564)" d="M545 0L545 1237L227 1010L227 1180L560 1409L726 1409L726 0Z" fill="#222" stroke="#111" stroke-width="56.11"/>
<g transform="translate(369.2,209.3) rotate(-90)"><text x="-37.74" y="0" font-size="7.3" font-weight="normal" fill="#222">Component 2&#160;&#160;(&#8199;8.2 %)</text><path transform="translate(12.58,0) scale(0.003564,-0.003564)" d="M545 0L545 1237L227 1010L227 1180L560 1409L726 1409L726 0Z" fill="#222" stroke="#111" stroke-width="56.11"/></g>
<path d="M461.2 157.4H467M464.1 154.5V160.3" stroke="#111" stroke-width="1" fill="none"/>
<path d="M474.5 199H480.3M477.4 196.1V201.9" stroke="#111" stroke-width="1" fill="none"/>
<path d="M482.9 201.9H488.7M485.8 199V204.8" stroke="#111" stroke-width="1" fill="none"/>
<path d="M484.2 209.9H490M487.1 207V212.8" stroke="#111" stroke-width="1" fill="none"/>
<path d="M403.1 177.5H408.9M406 174.6V180.4" stroke="#111" stroke-width="1" fill="none"/>
<path d="M392.8 180.1H398.6M395.7 177.2V183" stroke="#111" stroke-width="1" fill="none"/>
<path d="M391.6 182.9H397.4M394.5 180V185.8" stroke="#111" stroke-width="1" fill="none"/>
<path d="M406.2 193.4H412M409.1 190.5V196.3" stroke="#111" stroke-width="1" fill="none"/>
<path d="M383.5 206.1H389.3M386.4 203.2V209" stroke="#111" stroke-width="1" fill="none"/>
<path d="M383.5 212.7H389.3M386.4 209.8V215.6" stroke="#111" stroke-width="1" fill="none"/>
<path d="M384.1 215.5H389.9M387 212.6V218.4" stroke="#111" stroke-width="1" fill="none"/>
<path d="M384.6 218.1H390.4M387.5 215.2V221" stroke="#111" stroke-width="1" fill="none"/>
<path d="M405.5 230.5H411.3M408.4 227.6V233.4" stroke="#111" stroke-width="1" fill="none"/>
<path d="M415.5 255.2H421.3M418.4 252.3V258.1" stroke="#111" stroke-width="1" fill="none"/>
<path d="M454.7 255.1H460.5M457.6 252.2V258" stroke="#111" stroke-width="1" fill="none"/>
<circle cx="390.6" cy="186.8" r="2.1" fill="#d23a58"/>
<circle cx="385.5" cy="193" r="2.1" fill="#d23a58"/>
<circle cx="407.9" cy="249" r="2.1" fill="#d23a58"/>
<polygon points="483.4,159.1 481.4,162.7 485.4,162.7" fill="#3d6fd0"/>
<polygon points="482.3,216.1 480.3,219.7 484.3,219.7" fill="#3d6fd0"/>
<polygon points="478,235 476,238.6 480,238.6" fill="#3d6fd0"/>
<line x1="438.5" y1="207.5" x2="452.62" y2="172.63" stroke="#222" stroke-width="1.2"/>
<polygon points="454.5,168 454.94,174.65 449.56,172.47" fill="#000"/>
<line x1="438.5" y1="207.5" x2="467.39" y2="187.45" stroke="#222" stroke-width="1.2"/>
<polygon points="471.5,184.6 468.22,190.4 464.92,185.64" fill="#000"/>
<line x1="438.5" y1="207.5" x2="485.03" y2="202.08" stroke="#222" stroke-width="1.2"/>
<polygon points="490,201.5 484.38,205.07 483.7,199.31" fill="#000"/>
<line x1="438.5" y1="207.5" x2="476.62" y2="230.52" stroke="#222" stroke-width="1.2"/>
<polygon points="480.9,233.1 474.26,232.48 477.26,227.52" fill="#000"/>
<line x1="438.5" y1="207.5" x2="443.18" y2="252.43" stroke="#222" stroke-width="1.2"/>
<polygon points="443.7,257.4 440.19,251.73 445.96,251.13" fill="#000"/>
<line x1="438.5" y1="207.5" x2="419.91" y2="199.73" stroke="#222" stroke-width="1.2"/>
<polygon points="415.3,197.8 421.95,197.44 419.72,202.79" fill="#000"/>
<path d="M450.9 168.3H456.7M453.8 165.4V171.2" stroke="#111" stroke-width="1" fill="none"/>
<path d="M467.2 184.4H473M470.1 181.5V187.3" stroke="#111" stroke-width="1" fill="none"/>
<path d="M485.4 201.5H491.2M488.3 198.6V204.4" stroke="#111" stroke-width="1" fill="none"/>
<path d="M477.3 232.5H483.1M480.2 229.6V235.4" stroke="#111" stroke-width="1" fill="none"/>
<path d="M440.2 259.6H446M443.1 256.7V262.5" stroke="#111" stroke-width="1" fill="none"/>
<path d="M412.4 197.6H418.2M415.3 194.7V200.5" stroke="#111" stroke-width="1" fill="none"/>
<text class="b" x="455.54" y="169.26" font-size="11" font-weight="normal" fill="#000">&#8199;</text><path transform="translate(455.54,169.26) scale(0.005371,-0.005371)" d="M545 0L545 1237L227 1010L227 1180L560 1409L726 1409L726 0Z" fill="#000" stroke="#111" stroke-width="78.2"/>
<text class="b" x="475.14" y="183.76" font-size="11" font-weight="normal" fill="#000">2</text>
<text class="b" x="484.24" y="197.16" font-size="11" font-weight="normal" fill="#000">3</text>
<text class="b" x="483.34" y="240.96" font-size="11" font-weight="normal" fill="#000">4</text>
<text class="b" x="446.84" y="263.16" font-size="11" font-weight="normal" fill="#000">5</text>
<text class="b" x="412.24" y="193.96" font-size="11" font-weight="normal" fill="#000">6</text>
<text x="493.6" y="161.46" font-size="7.4" font-weight="bold" fill="#000">Date</text>
<circle cx="494.9" cy="167.8" r="1.1" fill="#d23a58"/>
<text x="498.2" y="170.37" font-size="7.15" font-weight="normal" fill="#111">20&#8199;3.8.&#8199;3</text><path transform="translate(506.15,170.37) scale(0.003491,-0.003491)" d="M545 0L545 1237L227 1010L227 1180L560 1409L726 1409L726 0Z" fill="#111" stroke="#111" stroke-width="57.29"/><path transform="translate(522.06,170.37) scale(0.003491,-0.003491)" d="M545 0L545 1237L227 1010L227 1180L560 1409L726 1409L726 0Z" fill="#111" stroke="#111" stroke-width="57.29"/>
<polygon points="494.9,175.25 493.55,177.68 496.25,177.68" fill="#3d6fd0"/>
<text x="498.2" y="179.17" font-size="7.15" font-weight="normal" fill="#111">20&#8199;3.9.09</text><path transform="translate(506.15,179.17) scale(0.003491,-0.003491)" d="M545 0L545 1237L227 1010L227 1180L560 1409L726 1409L726 0Z" fill="#111" stroke="#111" stroke-width="57.29"/>
<rect x="364" y="283.8" width="167" height="128.8" fill="#f5f6f1"/>
<rect x="386.5" y="284.6" width="106.7" height="109.5" fill="#fff" stroke="#e4e4e0" stroke-width="0.8"/>
<line x1="437.4" y1="284.6" x2="437.4" y2="394.1" stroke="#f4d2d9" stroke-width="0.8"/>
<line x1="386.5" y1="347" x2="493.2" y2="347" stroke="#f4d2d9" stroke-width="0.8"/>
<text x="375.69" y="291.99" font-size="7.2" font-weight="normal" fill="#111">&#8199;0</text><path transform="translate(375.69,291.99) scale(0.003516,-0.003516)" d="M545 0L545 1237L227 1010L227 1180L560 1409L726 1409L726 0Z" fill="#111" stroke="#111" stroke-width="56.89"/>
<text x="379.7" y="320.19" font-size="7.2" font-weight="normal" fill="#111">5</text>
<text x="379.7" y="349.99" font-size="7.2" font-weight="normal" fill="#111">0</text>
<text x="377.3" y="377.99" font-size="7.2" font-weight="normal" fill="#111">-5</text>
<text x="389.4" y="403.69" font-size="7.2" font-weight="normal" fill="#111">-&#8199;0</text><path transform="translate(391.79,403.69) scale(0.003516,-0.003516)" d="M545 0L545 1237L227 1010L227 1180L560 1409L726 1409L726 0Z" fill="#111" stroke="#111" stroke-width="56.89"/>
<text x="413.1" y="403.69" font-size="7.2" font-weight="normal" fill="#111">-5</text>
<text x="436" y="403.69" font-size="7.2" font-weight="normal" fill="#111">0</text>
<text x="458.2" y="403.69" font-size="7.2" font-weight="normal" fill="#111">5</text>
<text x="478.3" y="403.69" font-size="7.2" font-weight="normal" fill="#111">&#8199;0</text><path transform="translate(478.3,403.69) scale(0.003516,-0.003516)" d="M545 0L545 1237L227 1010L227 1180L560 1409L726 1409L726 0Z" fill="#111" stroke="#111" stroke-width="56.89"/>
<text x="401.46" y="411.43" font-size="7.3" font-weight="normal" fill="#222">Component &#8199;&#160;&#160;(25.6 %)</text><path transform="translate(441.23,411.43) scale(0.003564,-0.003564)" d="M545 0L545 1237L227 1010L227 1180L560 1409L726 1409L726 0Z" fill="#222" stroke="#111" stroke-width="56.11"/>
<g transform="translate(369.2,340.7) rotate(-90)"><text x="-37.74" y="0" font-size="7.3" font-weight="normal" fill="#222">Component 2&#160;&#160;(&#8199;6.5 %)</text><path transform="translate(12.58,0) scale(0.003564,-0.003564)" d="M545 0L545 1237L227 1010L227 1180L560 1409L726 1409L726 0Z" fill="#222" stroke="#111" stroke-width="56.11"/></g>
<circle cx="440.5" cy="287.5" r="1.35" fill="#111"/>
<circle cx="445.6" cy="292.2" r="1.35" fill="#111"/>
<circle cx="444.3" cy="303.5" r="1.35" fill="#111"/>
<circle cx="428.2" cy="308.1" r="1.35" fill="#111"/>
<circle cx="434.1" cy="306.5" r="1.35" fill="#111"/>
<circle cx="433.5" cy="312.2" r="1.35" fill="#111"/>
<circle cx="454.1" cy="305.5" r="1.35" fill="#111"/>
<circle cx="456.7" cy="309.6" r="1.35" fill="#111"/>
<circle cx="454.8" cy="316.9" r="1.35" fill="#111"/>
<circle cx="476.3" cy="325" r="1.35" fill="#111"/>
<circle cx="475" cy="329.6" r="1.35" fill="#111"/>
<circle cx="483.5" cy="333.9" r="1.35" fill="#111"/>
<circle cx="486.1" cy="337.8" r="1.35" fill="#111"/>
<circle cx="445.4" cy="328.3" r="1.35" fill="#111"/>
<circle cx="452.8" cy="338.1" r="1.35" fill="#111"/>
<circle cx="388.9" cy="347.8" r="1.35" fill="#111"/>
<circle cx="400.2" cy="365.3" r="1.35" fill="#111"/>
<circle cx="406.2" cy="371.6" r="1.35" fill="#111"/>
<circle cx="427.8" cy="354.1" r="1.35" fill="#111"/>
<circle cx="441.2" cy="354.8" r="1.35" fill="#111"/>
<circle cx="442.6" cy="362.6" r="1.35" fill="#111"/>
<circle cx="438.1" cy="370.3" r="1.35" fill="#111"/>
<circle cx="421" cy="382" r="1.35" fill="#111"/>
<circle cx="423.1" cy="384.1" r="1.35" fill="#111"/>
<circle cx="433.8" cy="391.8" r="1.35" fill="#111"/>
<circle cx="448.7" cy="307.3" r="1.35" fill="#111"/>
<circle cx="484.8" cy="342.6" r="1.35" fill="#111"/>
<circle cx="483.4" cy="353.5" r="1.35" fill="#111"/>
<circle cx="483.4" cy="358.4" r="1.35" fill="#111"/>
<circle cx="485.9" cy="364.9" r="1.35" fill="#111"/>
<circle cx="477.1" cy="367.1" r="1.35" fill="#111"/>
<circle cx="478.9" cy="376.1" r="1.35" fill="#111"/>
<line x1="457.6" y1="332.2" x2="460.6" y2="330.9" stroke="#111" stroke-width="2.2" stroke-linecap="round"/>
<polygon points="471.5,317.2 474.1,319.8 471.5,322.4 468.9,319.8" fill="#2fb08e"/>
<polygon points="489.2,373.5 491.8,376.1 489.2,378.7 486.6,376.1" fill="#2fb08e"/>
<line x1="430.6" y1="360.8" x2="427.6" y2="368.0" stroke="#dc8a40" stroke-width="3.6" stroke-linecap="round"/>
<line x1="430.8" y1="360.4" x2="429.6" y2="363.2" stroke="#c04040" stroke-width="3.4" stroke-linecap="round"/>
<circle cx="431" cy="330.9" r="1.8" fill="#d23a58"/>
<circle cx="432.6" cy="341.1" r="1.9" fill="#d23a58"/>
<ellipse cx="435.2" cy="328.0" rx="1.9" ry="3.2" fill="#5a2050"/>
<polygon points="434.5,335.5 432.5,339.1 436.5,339.1" fill="#3cb450"/>
<polygon points="439.6,339.7 437.6,343.3 441.6,343.3" fill="#2fb08e"/>
<polygon points="433.6,343.3 431.6,346.9 435.6,346.9" fill="#3cb450"/>
<polygon points="441.2,342.7 439.4,345.94 443,345.94" fill="#3cb450"/>
<line x1="438.0" y1="347.0" x2="438.6" y2="323.5" stroke="#2a2a2a" stroke-width="2.4"/>
<line x1="438" y1="347.3" x2="443.43" y2="298.57" stroke="#222" stroke-width="1.3"/>
<polygon points="443.9,294.4 445.81,299.85 440.84,299.29" fill="#000"/>
<line x1="438" y1="347.3" x2="445.59" y2="313.3" stroke="#222" stroke-width="1.3"/>
<polygon points="446.5,309.2 447.81,314.82 442.93,313.73" fill="#000"/>
<line x1="438" y1="347.3" x2="399.24" y2="320.21" stroke="#222" stroke-width="1.3"/>
<polygon points="395.8,317.8 401.49,318.73 398.63,322.83" fill="#000"/>
<line x1="438" y1="347.3" x2="430.47" y2="321.43" stroke="#222" stroke-width="1.2"/>
<polygon points="429.3,317.4 433.15,321.69 428.35,323.09" fill="#000"/>
<line x1="438" y1="347.3" x2="479.32" y2="343.67" stroke="#222" stroke-width="1.3"/>
<polygon points="483.5,343.3 478.54,346.25 478.1,341.26" fill="#000"/>
<line x1="438" y1="347.3" x2="438.54" y2="386.4" stroke="#222" stroke-width="1.3"/>
<polygon points="438.6,390.6 436.03,385.44 441.03,385.37" fill="#000"/>
<line x1="438" y1="347.3" x2="437.74" y2="326.1" stroke="#222" stroke-width="1.2"/>
<polygon points="437.7,322.6 440.15,327.07 435.35,327.13" fill="#000"/>
<line x1="438" y1="347.3" x2="440.02" y2="322.59" stroke="#222" stroke-width="1.2"/>
<polygon points="440.3,319.1 442.33,323.78 437.54,323.39" fill="#000"/>
<line x1="438" y1="347.3" x2="441.26" y2="335.57" stroke="#222" stroke-width="1.2"/>
<polygon points="442.2,332.2 443.31,337.18 438.68,335.89" fill="#000"/>
<line x1="438" y1="347.3" x2="445.34" y2="342.12" stroke="#222" stroke-width="1.2"/>
<polygon points="448.2,340.1 445.91,344.66 443.14,340.73" fill="#000"/>
<line x1="438" y1="347.3" x2="437.96" y2="349.3" stroke="#222" stroke-width="1.2"/>
<polygon points="437.9,352.8 435.58,348.26 440.38,348.34" fill="#000"/>
<line x1="438" y1="347.3" x2="436.59" y2="332.99" stroke="#222" stroke-width="1.2"/>
<polygon points="436.3,330 438.88,333.77 434.5,334.2" fill="#000"/>
<text class="b" x="448.14" y="293.76" font-size="11" font-weight="normal" fill="#000">2</text>
<text class="b" x="446.24" y="304.96" font-size="11" font-weight="normal" fill="#000">3</text>
<text class="b" x="387.28" y="315.86" font-size="11" font-weight="normal" fill="#000">&#8199;0</text><path transform="translate(387.28,315.86) scale(0.005371,-0.005371)" d="M545 0L545 1237L227 1010L227 1180L560 1409L726 1409L726 0Z" fill="#000" stroke="#111" stroke-width="78.2"/>
<text class="b" x="414.78" y="315.86" font-size="11" font-weight="normal" fill="#000">&#8199;&#8199;</text><path transform="translate(414.78,315.86) scale(0.005371,-0.005371)" d="M545 0L545 1237L227 1010L227 1180L560 1409L726 1409L726 0Z" fill="#000" stroke="#111" stroke-width="78.2"/><path transform="translate(420.9,315.86) scale(0.005371,-0.005371)" d="M545 0L545 1237L227 1010L227 1180L560 1409L726 1409L726 0Z" fill="#000" stroke="#111" stroke-width="78.2"/>
<text class="b" x="486.94" y="346.56" font-size="11" font-weight="normal" fill="#000">6</text>
<text class="b" x="441.44" y="394.46" font-size="11" font-weight="normal" fill="#000">8</text>
<text x="494.5" y="291.76" font-size="7.4" font-weight="bold" fill="#000">Date</text>
<circle cx="495.8" cy="298.4" r="1.1" fill="#d23a58"/>
<text x="499.1" y="300.97" font-size="7.15" font-weight="normal" fill="#111">20&#8199;3.8.&#8199;3</text><path transform="translate(507.05,300.97) scale(0.003491,-0.003491)" d="M545 0L545 1237L227 1010L227 1180L560 1409L726 1409L726 0Z" fill="#111" stroke="#111" stroke-width="57.29"/><path transform="translate(522.96,300.97) scale(0.003491,-0.003491)" d="M545 0L545 1237L227 1010L227 1180L560 1409L726 1409L726 0Z" fill="#111" stroke="#111" stroke-width="57.29"/>
<polygon points="495.8,306 494.45,308.43 497.15,308.43" fill="#3cb450"/>
<text x="499.1" y="309.92" font-size="7.15" font-weight="normal" fill="#111">20&#8199;3.8.24</text><path transform="translate(507.05,309.92) scale(0.003491,-0.003491)" d="M545 0L545 1237L227 1010L227 1180L560 1409L726 1409L726 0Z" fill="#111" stroke="#111" stroke-width="57.29"/>
<polygon points="495.8,317.65 494.45,315.22 497.15,315.22" fill="#3d6fd0"/>
<text x="499.1" y="318.87" font-size="7.15" font-weight="normal" fill="#111">20&#8199;3.8.28</text><path transform="translate(507.05,318.87) scale(0.003491,-0.003491)" d="M545 0L545 1237L227 1010L227 1180L560 1409L726 1409L726 0Z" fill="#111" stroke="#111" stroke-width="57.29"/>
<rect x="494.75" y="324.2" width="2.1" height="2.1" fill="#dc8a40"/>
<text x="499.1" y="327.82" font-size="7.15" font-weight="normal" fill="#111">20&#8199;3.8.3&#8199;</text><path transform="translate(507.05,327.82) scale(0.003491,-0.003491)" d="M545 0L545 1237L227 1010L227 1180L560 1409L726 1409L726 0Z" fill="#111" stroke="#111" stroke-width="57.29"/><path transform="translate(526.93,327.82) scale(0.003491,-0.003491)" d="M545 0L545 1237L227 1010L227 1180L560 1409L726 1409L726 0Z" fill="#111" stroke="#111" stroke-width="57.29"/>
<polygon points="495.8,332.8 497.2,334.2 495.8,335.6 494.4,334.2" fill="#2fb08e"/>
<text x="499.1" y="336.77" font-size="7.15" font-weight="normal" fill="#111">20&#8199;3.9.03</text><path transform="translate(507.05,336.77) scale(0.003491,-0.003491)" d="M545 0L545 1237L227 1010L227 1180L560 1409L726 1409L726 0Z" fill="#111" stroke="#111" stroke-width="57.29"/>
<rect x="364" y="415.8" width="167" height="127.8" fill="#f5f6f1"/>
<rect x="383.4" y="416.2" width="108.2" height="109.4" fill="#fff" stroke="#e4e4e0" stroke-width="0.8"/>
<line x1="437.4" y1="416.2" x2="437.4" y2="525.6" stroke="#f4d2d9" stroke-width="0.8"/>
<line x1="383.4" y1="469.4" x2="491.6" y2="469.4" stroke="#f4d2d9" stroke-width="0.8"/>
<text x="376.3" y="429.79" font-size="7.2" font-weight="normal" fill="#111">6</text>
<text x="376.3" y="443.89" font-size="7.2" font-weight="normal" fill="#111">4</text>
<text x="376.3" y="458.09" font-size="7.2" font-weight="normal" fill="#111">2</text>
<text x="376.3" y="472.29" font-size="7.2" font-weight="normal" fill="#111">0</text>
<text x="373.9" y="485.89" font-size="7.2" font-weight="normal" fill="#111">-2</text>
<text x="373.9" y="499.99" font-size="7.2" font-weight="normal" fill="#111">-4</text>
<text x="373.9" y="513.79" font-size="7.2" font-weight="normal" fill="#111">-6</text>
<text x="373.9" y="526.39" font-size="7.2" font-weight="normal" fill="#111">-8</text>
<text x="387.2" y="535.29" font-size="7.2" font-weight="normal" fill="#111">-6</text>
<text x="402.8" y="535.29" font-size="7.2" font-weight="normal" fill="#111">-4</text>
<text x="418.7" y="535.29" font-size="7.2" font-weight="normal" fill="#111">-2</text>
<text x="436" y="535.29" font-size="7.2" font-weight="normal" fill="#111">0</text>
<text x="451.3" y="535.29" font-size="7.2" font-weight="normal" fill="#111">2</text>
<text x="467.3" y="535.29" font-size="7.2" font-weight="normal" fill="#111">4</text>
<text x="482.8" y="535.29" font-size="7.2" font-weight="normal" fill="#111">6</text>
<text x="400.26" y="543.63" font-size="7.3" font-weight="normal" fill="#222">Component &#8199;&#160;&#160;(22.9 %)</text><path transform="translate(440.03,543.63) scale(0.003564,-0.003564)" d="M545 0L545 1237L227 1010L227 1180L560 1409L726 1409L726 0Z" fill="#222" stroke="#111" stroke-width="56.11"/>
<g transform="translate(369.2,472.2) rotate(-90)"><text x="-37.74" y="0" font-size="7.3" font-weight="normal" fill="#222">Component 2&#160;&#160;(&#8199;2.9 %)</text><path transform="translate(12.58,0) scale(0.003564,-0.003564)" d="M545 0L545 1237L227 1010L227 1180L560 1409L726 1409L726 0Z" fill="#222" stroke="#111" stroke-width="56.11"/></g>
<circle cx="415.9" cy="440.1" r="1.35" fill="#111"/>
<circle cx="440.2" cy="440.1" r="1.35" fill="#111"/>
<circle cx="411.3" cy="449.5" r="1.35" fill="#111"/>
<circle cx="418.1" cy="464.2" r="1.35" fill="#111"/>
<circle cx="421.1" cy="474" r="1.35" fill="#111"/>
<circle cx="413.2" cy="472.9" r="1.35" fill="#111"/>
<circle cx="427.6" cy="466.8" r="1.35" fill="#111"/>
<circle cx="451.5" cy="436.4" r="1.35" fill="#111"/>
<circle cx="454.8" cy="437.5" r="1.35" fill="#111"/>
<circle cx="460.6" cy="438.1" r="1.35" fill="#111"/>
<circle cx="465.5" cy="442" r="1.35" fill="#111"/>
<circle cx="475.6" cy="445.3" r="1.35" fill="#111"/>
<circle cx="479.3" cy="451.8" r="1.35" fill="#111"/>
<circle cx="470.7" cy="468.8" r="1.35" fill="#111"/>
<circle cx="462.6" cy="474.6" r="1.35" fill="#111"/>
<circle cx="473" cy="476.8" r="1.35" fill="#111"/>
<circle cx="476.9" cy="475.3" r="1.35" fill="#111"/>
<circle cx="480.2" cy="475" r="1.35" fill="#111"/>
<circle cx="480.8" cy="478.1" r="1.35" fill="#111"/>
<circle cx="471" cy="469" r="1.35" fill="#111"/>
<circle cx="472.5" cy="476.7" r="1.35" fill="#111"/>
<circle cx="459.4" cy="488.1" r="1.35" fill="#111"/>
<circle cx="464" cy="498.3" r="1.35" fill="#111"/>
<circle cx="433.1" cy="486.3" r="1.35" fill="#111"/>
<circle cx="437.7" cy="489.1" r="1.35" fill="#111"/>
<circle cx="393.6" cy="476.8" r="1.35" fill="#111"/>
<circle cx="420.9" cy="474.1" r="1.35" fill="#111"/>
<circle cx="424.5" cy="466.5" r="1.35" fill="#111"/>
<circle cx="453.5" cy="419.9" r="2.1" fill="#d23a58"/>
<circle cx="452.4" cy="444.6" r="2.1" fill="#d23a58"/>
<circle cx="435.9" cy="451.8" r="2.1" fill="#d23a58"/>
<polygon points="387.2,471.7 389.5,474 387.2,476.3 384.9,474" fill="#2fb08e"/>
<polygon points="390.4,473.9 392.4,475.9 390.4,477.9 388.4,475.9" fill="#2fb08e"/>
<circle cx="396.3" cy="477.6" r="2" fill="#2fb08e"/>
<circle cx="403.3" cy="478.5" r="2.1" fill="#207060"/>
<polygon points="397.7,469.2 395.6,472.98 399.8,472.98" fill="#3cb450"/>
<polygon points="410.7,471.3 408.6,475.08 412.8,475.08" fill="#3cb450"/>
<polygon points="391.8,473.2 390,476.44 393.6,476.44" fill="#3cb450"/>
<rect x="447.3" y="459.2" width="4" height="4" fill="#dc8a40"/>
<rect x="466.5" y="457" width="4" height="4" fill="#dc8a40"/>
<polygon points="447,476.2 445,472.6 449,472.6" fill="#3d6fd0"/>
<polygon points="452.8,466.8 450.8,463.2 454.8,463.2" fill="#3d6fd0"/>
<polygon points="463.6,462.5 461.4,458.54 465.8,458.54" fill="#3d6fd0"/>
<polygon points="451.8,478.2 455.76,476 455.76,480.4" fill="#8540cc"/>
<polygon points="447.9,487.8 451.86,485.6 451.86,490" fill="#8540cc"/>
<polygon points="486.3,521.8 490.62,519.4 490.62,524.2" fill="#8540cc"/>
<line x1="438.3" y1="469.5" x2="457.18" y2="445.88" stroke="#222" stroke-width="1.3"/>
<polygon points="459.8,442.6 458.51,448.22 454.6,445.1" fill="#000"/>
<line x1="438.3" y1="469.5" x2="456.66" y2="461.31" stroke="#222" stroke-width="1.3"/>
<polygon points="460.5,459.6 456.77,464 454.73,459.43" fill="#000"/>
<line x1="438.3" y1="469.5" x2="473.45" y2="459.91" stroke="#222" stroke-width="1.3"/>
<polygon points="477.5,458.8 473.14,462.58 471.83,457.76" fill="#000"/>
<line x1="438.3" y1="469.5" x2="465.91" y2="484.5" stroke="#222" stroke-width="1.3"/>
<polygon points="469.6,486.5 463.84,486.22 466.22,481.82" fill="#000"/>
<line x1="438.3" y1="469.5" x2="456.17" y2="496.31" stroke="#222" stroke-width="1.3"/>
<polygon points="458.5,499.8 453.54,496.86 457.7,494.09" fill="#000"/>
<line x1="438.3" y1="469.5" x2="416.22" y2="453.74" stroke="#222" stroke-width="1.3"/>
<polygon points="412.8,451.3 418.48,452.29 415.58,456.36" fill="#000"/>
<line x1="438.3" y1="469.5" x2="442.05" y2="458.71" stroke="#222" stroke-width="1.2"/>
<polygon points="443.2,455.4 443.99,460.44 439.46,458.86" fill="#000"/>
<line x1="438.3" y1="469.5" x2="440.22" y2="461.11" stroke="#222" stroke-width="1.2"/>
<polygon points="441,457.7 442.34,462.62 437.66,461.55" fill="#000"/>
<line x1="438.3" y1="469.5" x2="435.39" y2="467.72" stroke="#222" stroke-width="1.2"/>
<polygon points="432.4,465.9 437.49,466.2 434.99,470.29" fill="#000"/>
<line x1="438.3" y1="469.5" x2="435.66" y2="474.42" stroke="#222" stroke-width="1.2"/>
<polygon points="434,477.5 434.02,472.4 438.24,474.67" fill="#000"/>
<line x1="438.3" y1="469.5" x2="439.81" y2="477.07" stroke="#222" stroke-width="1.2"/>
<polygon points="440.5,480.5 437.26,476.56 441.97,475.62" fill="#000"/>
<line x1="438.3" y1="469.5" x2="437.07" y2="477.05" stroke="#222" stroke-width="1.2"/>
<polygon points="436.5,480.5 434.86,475.67 439.6,476.45" fill="#000"/>
<line x1="438.3" y1="469.5" x2="452.01" y2="468.27" stroke="#222" stroke-width="1.2"/>
<polygon points="455,468 451.28,471.25 450.76,465.47" fill="#000"/>
<line x1="438.3" y1="469.5" x2="449.01" y2="470.28" stroke="#222" stroke-width="1.2"/>
<polygon points="452,470.5 447.8,473.1 448.22,467.32" fill="#000"/>
<ellipse cx="438.8" cy="473.5" rx="2.6" ry="4.2" fill="#111"/>
<circle cx="427.2" cy="467" r="1.5" fill="#111"/>
<rect x="453.8" y="466.0" width="5.4" height="5.6" fill="#52287e"/>
<text class="b" x="462.64" y="439.26" font-size="11" font-weight="normal" fill="#000">2</text>
<text class="b" x="460.84" y="457.36" font-size="11" font-weight="normal" fill="#000">3</text>
<text class="b" x="480.44" y="461.66" font-size="11" font-weight="normal" fill="#000">4</text>
<text class="b" x="470.54" y="496.46" font-size="11" font-weight="normal" fill="#000">7</text>
<text class="b" x="457.04" y="510.36" font-size="11" font-weight="normal" fill="#000">8</text>
<text class="b" x="396.28" y="454.46" font-size="11" font-weight="normal" fill="#000">&#8199;4</text><path transform="translate(396.28,454.46) scale(0.005371,-0.005371)" d="M545 0L545 1237L227 1010L227 1180L560 1409L726 1409L726 0Z" fill="#000" stroke="#111" stroke-width="78.2"/>
<text x="493.6" y="424.66" font-size="7.4" font-weight="bold" fill="#000">Date</text>
<circle cx="494.9" cy="430.8" r="1.1" fill="#d23a58"/>
<text x="498.2" y="433.37" font-size="7.15" font-weight="normal" fill="#111">20&#8199;3.8.&#8199;0</text><path transform="translate(506.15,433.37) scale(0.003491,-0.003491)" d="M545 0L545 1237L227 1010L227 1180L560 1409L726 1409L726 0Z" fill="#111" stroke="#111" stroke-width="57.29"/><path transform="translate(522.06,433.37) scale(0.003491,-0.003491)" d="M545 0L545 1237L227 1010L227 1180L560 1409L726 1409L726 0Z" fill="#111" stroke="#111" stroke-width="57.29"/>
<polygon points="494.9,438.2 493.55,440.63 496.25,440.63" fill="#3cb450"/>
<text x="498.2" y="442.12" font-size="7.15" font-weight="normal" fill="#111">20&#8199;3.8.&#8199;3</text><path transform="translate(506.15,442.12) scale(0.003491,-0.003491)" d="M545 0L545 1237L227 1010L227 1180L560 1409L726 1409L726 0Z" fill="#111" stroke="#111" stroke-width="57.29"/><path transform="translate(522.06,442.12) scale(0.003491,-0.003491)" d="M545 0L545 1237L227 1010L227 1180L560 1409L726 1409L726 0Z" fill="#111" stroke="#111" stroke-width="57.29"/>
<polygon points="494.9,449.65 493.55,447.22 496.25,447.22" fill="#3d6fd0"/>
<text x="498.2" y="450.87" font-size="7.15" font-weight="normal" fill="#111">20&#8199;3.8.24</text><path transform="translate(506.15,450.87) scale(0.003491,-0.003491)" d="M545 0L545 1237L227 1010L227 1180L560 1409L726 1409L726 0Z" fill="#111" stroke="#111" stroke-width="57.29"/>
<rect x="493.85" y="456" width="2.1" height="2.1" fill="#dc8a40"/>
<text x="498.2" y="459.62" font-size="7.15" font-weight="normal" fill="#111">20&#8199;3.8.28</text><path transform="translate(506.15,459.62) scale(0.003491,-0.003491)" d="M545 0L545 1237L227 1010L227 1180L560 1409L726 1409L726 0Z" fill="#111" stroke="#111" stroke-width="57.29"/>
<polygon points="494.9,464.4 496.3,465.8 494.9,467.2 493.5,465.8" fill="#2fb08e"/>
<text x="498.2" y="468.37" font-size="7.15" font-weight="normal" fill="#111">20&#8199;3.8.3&#8199;</text><path transform="translate(506.15,468.37) scale(0.003491,-0.003491)" d="M545 0L545 1237L227 1010L227 1180L560 1409L726 1409L726 0Z" fill="#111" stroke="#111" stroke-width="57.29"/><path transform="translate(526.03,468.37) scale(0.003491,-0.003491)" d="M545 0L545 1237L227 1010L227 1180L560 1409L726 1409L726 0Z" fill="#111" stroke="#111" stroke-width="57.29"/>
<polygon points="493.55,474.55 495.98,473.2 495.98,475.9" fill="#8540cc"/>
<text x="498.2" y="477.12" font-size="7.15" font-weight="normal" fill="#111">20&#8199;3.9.03</text><path transform="translate(506.15,477.12) scale(0.003491,-0.003491)" d="M545 0L545 1237L227 1010L227 1180L560 1409L726 1409L726 0Z" fill="#111" stroke="#111" stroke-width="57.29"/>
<text class="b" x="249.39" y="96.1" font-size="11.4" font-weight="normal" fill="#111">No Data</text>
<text class="b" x="249.19" y="223.7" font-size="11.4" font-weight="normal" fill="#111">No Data</text>
<text class="b" x="82.39" y="350.7" font-size="11.4" font-weight="normal" fill="#111">No Data</text>
<text class="b" x="83.89" y="488.6" font-size="11.4" font-weight="normal" fill="#111">No Data</text>
<text class="b" x="60.54" y="16.3" font-size="11.3" font-weight="normal" fill="#111">(&#8199;) Whole Cluster</text><path transform="translate(64.31,16.3) scale(0.005518,-0.005518)" d="M545 0L545 1237L227 1010L227 1180L560 1409L726 1409L726 0Z" fill="#111" stroke="#111" stroke-width="76.12"/>
<text class="b" x="237.55" y="16.3" font-size="11.3" font-weight="normal" fill="#111">(2) Single Berry</text>
<text class="b" x="386.9" y="16.3" font-size="11.3" font-weight="normal" fill="#111">(3) Crushed Berries</text>
<g transform="translate(16.85,85.8) rotate(-90)"><text class="b" x="-41.45" y="0" font-size="11.3" font-weight="normal" fill="#111">(A) IA Frontenac</text></g>
<g transform="translate(16.85,218.3) rotate(-90)"><text class="b" x="-41.45" y="0" font-size="11.3" font-weight="normal" fill="#111">(B) IA Marquette</text></g>
<g transform="translate(16.85,348.6) rotate(-90)"><text class="b" x="-37.98" y="0" font-size="11.3" font-weight="normal" fill="#111">(C) IA St. Croix</text></g>
<g transform="translate(16.85,480.1) rotate(-90)"><text class="b" x="-46.78" y="0" font-size="11.3" font-weight="normal" fill="#111">(D) IA La Crescent</text></g>
<line x1="5.4" y1="4.4" x2="5.4" y2="545.8" stroke="#707070" stroke-width="1.1"/>
<line x1="21.5" y1="4.4" x2="21.5" y2="545.8" stroke="#3a3a3a" stroke-width="1.4"/>
<line x1="191" y1="4.4" x2="191" y2="545.8" stroke="#3a3a3a" stroke-width="1.4"/>
<line x1="362.1" y1="4.4" x2="362.1" y2="545.8" stroke="#3a3a3a" stroke-width="1.4"/>
<line x1="532.2" y1="4.4" x2="532.2" y2="545.8" stroke="#444" stroke-width="1.5"/>
<line x1="4.8" y1="4.8" x2="532.9" y2="4.8" stroke="#5a5a5a" stroke-width="1.8"/>
<line x1="4.8" y1="18.9" x2="532.9" y2="18.9" stroke="#3a3a3a" stroke-width="1.4"/>
<line x1="4.8" y1="151.8" x2="532.9" y2="151.8" stroke="#484848" stroke-width="1.6"/>
<line x1="4.8" y1="282.4" x2="532.9" y2="282.4" stroke="#3a3a3a" stroke-width="1.4"/>
<line x1="4.8" y1="414.5" x2="532.9" y2="414.5" stroke="#3e3e3e" stroke-width="1.4"/>
<line x1="4.8" y1="545.4" x2="532.9" y2="545.4" stroke="#3a3a3a" stroke-width="1.5"/>
</svg>
</body></html>
